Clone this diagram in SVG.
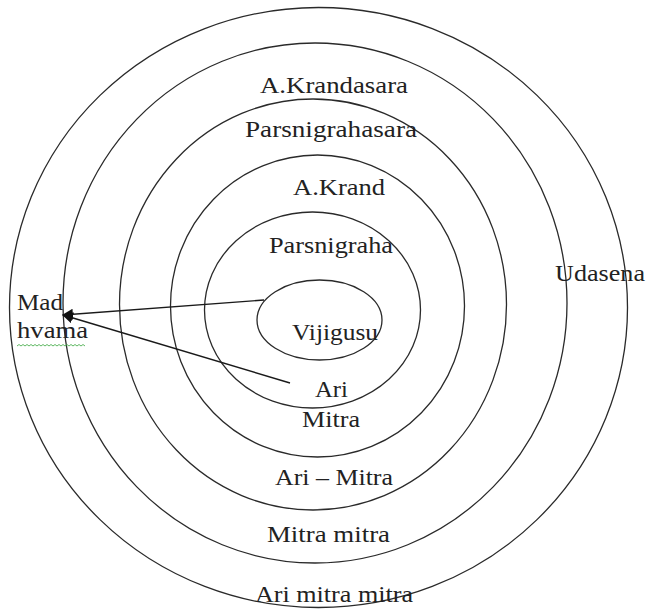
<svg xmlns="http://www.w3.org/2000/svg" width="647" height="611" viewBox="0 0 647 611">
<style>
.ring{fill:none;stroke:#2a2a2a;stroke-width:1.3}
.lbl{font-family:"Liberation Serif","Times New Roman",serif;font-size:24px;fill:#222}
.conn{fill:none;stroke:#1a1a1a;stroke-width:1.4}
</style>
<defs>
<marker id="ah" viewBox="0 0 10 10" refX="9" refY="5" markerWidth="11" markerHeight="11" markerUnits="userSpaceOnUse" orient="auto">
<path d="M0,0 L10,5 L0,10 z" fill="#111"/>
</marker>
</defs>
<rect width="647" height="611" fill="#fff"/>
<g id="ring5"><ellipse class="ring" cx="318.5" cy="307.5" rx="309" ry="300"/></g>
<g id="ring4"><ellipse class="ring" cx="315" cy="303" rx="252" ry="260"/></g>
<g id="ring3"><ellipse class="ring" cx="313" cy="304.5" rx="193.5" ry="205.5"/></g>
<g id="ring2"><ellipse class="ring" cx="317.5" cy="306" rx="147" ry="151"/></g>
<g id="ring1"><ellipse class="ring" cx="312.5" cy="310" rx="108" ry="98"/></g>
<g id="vijigusu"><ellipse class="ring" cx="319.5" cy="320" rx="62.5" ry="40"/>
<text class="lbl" x="292" y="340" textLength="86" lengthAdjust="spacingAndGlyphs">Vijigusu</text></g>
<g id="akrandasara"><text class="lbl" x="260" y="93" textLength="148" lengthAdjust="spacingAndGlyphs">A.Krandasara</text></g>
<g id="parsnigrahasara"><text class="lbl" x="245" y="137" textLength="172" lengthAdjust="spacingAndGlyphs">Parsnigrahasara</text></g>
<g id="akrand"><text class="lbl" x="293" y="195" textLength="92" lengthAdjust="spacingAndGlyphs">A.Krand</text></g>
<g id="parsnigraha"><text class="lbl" x="269" y="253" textLength="124" lengthAdjust="spacingAndGlyphs">Parsnigraha</text></g>
<g id="udasena"><text class="lbl" x="555" y="281" textLength="90" lengthAdjust="spacingAndGlyphs">Udasena</text></g>
<g id="madhyama"><text class="lbl" x="17" y="310" textLength="46" lengthAdjust="spacingAndGlyphs">Mad</text>
<text class="lbl" x="17" y="338" textLength="71" lengthAdjust="spacingAndGlyphs">hvama</text>
<path d="M17,346 l2,-1.5 l2,1.5 l2,-1.5 l2,1.5 l2,-1.5 l2,1.5 l2,-1.5 l2,1.5 l2,-1.5 l2,1.5 l2,-1.5 l2,1.5 l2,-1.5 l2,1.5 l2,-1.5 l2,1.5 l2,-1.5 l2,1.5 l2,-1.5 l2,1.5 l2,-1.5 l2,1.5 l2,-1.5 l2,1.5 l2,-1.5 l2,1.5 l2,-1.5 l2,1.5 l2,-1.5 l2,1.5 l2,-1.5 l2,1.5 l2,-1.5 l2,1.5" fill="none" stroke="#4caf50" stroke-width="0.9"/></g>
<g id="arimitra"><text class="lbl" x="315" y="397" textLength="33" lengthAdjust="spacingAndGlyphs">Ari</text>
<text class="lbl" x="302" y="427" textLength="58" lengthAdjust="spacingAndGlyphs">Mitra</text></g>
<g id="ari-mitra"><text class="lbl" x="275" y="485" textLength="118" lengthAdjust="spacingAndGlyphs">Ari – Mitra</text></g>
<g id="mitramitra"><text class="lbl" x="267" y="542" textLength="123" lengthAdjust="spacingAndGlyphs">Mitra mitra</text></g>
<g id="arimitramitra"><text class="lbl" x="255" y="602" textLength="158" lengthAdjust="spacingAndGlyphs">Ari mitra mitra</text></g>
<g id="connectors">
<line class="conn" x1="264" y1="300" x2="63" y2="315" marker-end="url(#ah)"/>
<line class="conn" x1="290" y1="383" x2="63" y2="315" marker-end="url(#ah)"/>
</g>
</svg>
